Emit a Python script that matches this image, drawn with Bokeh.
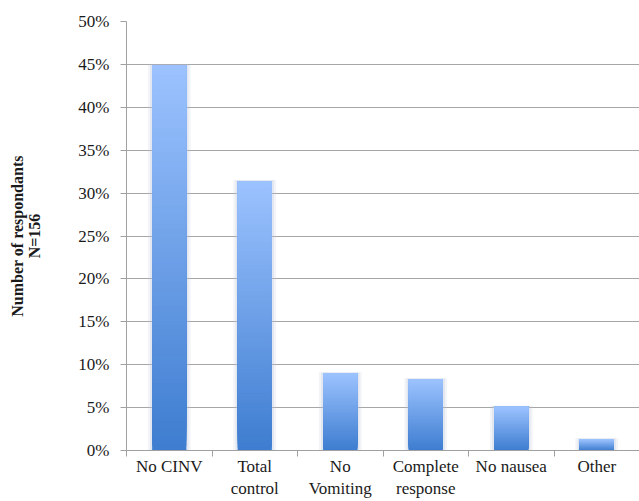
from bokeh.plotting import figure
from bokeh.models import Range1d, FixedTicker, ColumnDataSource, CustomJSTickFormatter
from bokeh.embed import file_html
from bokeh.resources import INLINE

# Survey results: share of respondents (N=156) per definition of success
categories = ["No CINV", "Total\ncontrol", "No\nVomiting", "Complete\nresponse", "No nausea", "Other"]
percent_respondents = [44.9, 31.4, 9.0, 8.3, 5.1, 1.3]

y_ticks = [0, 5, 10, 15, 20, 25, 30, 35, 40, 45, 50]
y_tick_labels = ["0%", "5%", "10%", "15%", "20%", "25%", "30%", "35%", "40%", "45%", "50%"]

# Bar styling
BAR_WIDTH = 0.40
TOP_RGB = (157, 195, 255)
BOTTOM_RGB = (62, 125, 208)
N_SLICES = 80
SERIF = "Liberation Serif"

p = figure(width=639, height=501, output_backend="svg", toolbar_location=None,
           x_range=Range1d(0, len(categories)), y_range=Range1d(0, 50),
           min_border_left=126, min_border_right=0, min_border_top=21, min_border_bottom=50)
p.outline_line_color = None
p.background_fill_color = "white"
p.border_fill_color = "white"

centers = [i + 0.5 for i in range(len(categories))]

# soft glow behind each bar
for extra, alpha in ((0.05, 0.18), (0.025, 0.25)):
    p.quad(left=[c - BAR_WIDTH / 2 - extra for c in centers],
           right=[c + BAR_WIDTH / 2 + extra for c in centers],
           bottom=0, top=[v + 0.12 for v in percent_respondents],
           fill_color="#b8c4d6", fill_alpha=alpha, line_color=None)

# vertical gradient per bar: stacked slices, each running from its start to the bar top
left, right, bottom, top, color = [], [], [], [], []
for c, v in zip(centers, percent_respondents):
    for k in range(N_SLICES):
        t = k / N_SLICES
        rgb = tuple(int(round(b + (tp - b) * t)) for b, tp in zip(BOTTOM_RGB, TOP_RGB))
        left.append(c - BAR_WIDTH / 2)
        right.append(c + BAR_WIDTH / 2)
        bottom.append(v * t)
        top.append(v)
        color.append("#%02x%02x%02x" % rgb)
src = ColumnDataSource(dict(left=left, right=right, bottom=bottom, top=top, color=color))
p.quad(left="left", right="right", bottom="bottom", top="top", fill_color="color",
       line_color=None, source=src)

# y axis
yax = p.yaxis[0]
yax.ticker = FixedTicker(ticks=y_ticks)
yax.formatter = CustomJSTickFormatter(
    args=dict(pct_values=y_ticks, pct_labels=y_tick_labels),
    code="const i = pct_values.indexOf(tick); return i >= 0 ? pct_labels[i] : '';")
yax.axis_line_color = "#a0a0a0"
yax.major_tick_line_color = "#a0a0a0"
yax.major_tick_out = 6
yax.major_tick_in = 0
yax.minor_tick_line_color = None
yax.major_label_standoff = 11
yax.major_label_text_font = SERIF
yax.major_label_text_font_size = "17px"
yax.major_label_text_color = "#1a1a1a"
yax.axis_label = "Number of respondants\nN=156"
yax.axis_label_text_font = SERIF
yax.axis_label_text_font_style = "bold"
yax.axis_label_text_font_size = "16px"
yax.axis_label_text_line_height = 1.0
yax.axis_label_text_color = "#1a1a1a"
yax.axis_label_standoff = 32

# x axis: labels at category centres, tick marks at category boundaries
xax = p.xaxis[0]
xax.ticker = FixedTicker(ticks=centers, minor_ticks=list(range(len(categories) + 1)))
xax.formatter = CustomJSTickFormatter(
    args=dict(cat_labels=categories),
    code="const i = Math.floor(tick); return (i >= 0 && i < cat_labels.length) ? cat_labels[i] : '';")
xax.axis_line_color = "#a0a0a0"
xax.major_tick_line_color = None
xax.major_tick_out = 0
xax.major_tick_in = 0
xax.minor_tick_line_color = "#a0a0a0"
xax.minor_tick_out = 6
xax.minor_tick_in = 0
xax.major_label_standoff = 0
xax.major_label_text_font = SERIF
xax.major_label_text_font_size = "17px"
xax.major_label_text_color = "#1a1a1a"

p.xgrid.grid_line_color = None
p.ygrid.grid_line_color = "#a6a6a6"
p.ygrid.grid_line_width = 1

open("out.html", "w").write(file_html(p, INLINE))
